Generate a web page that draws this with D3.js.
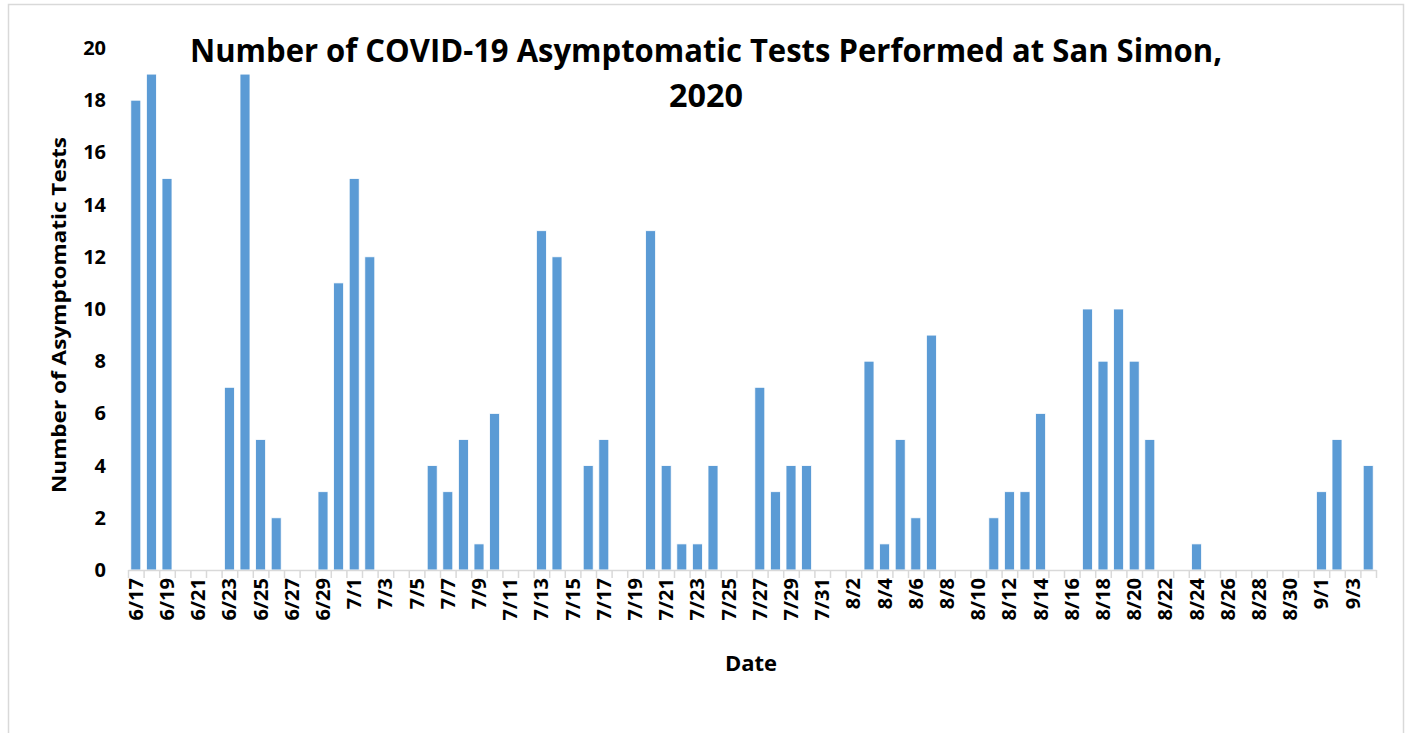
<!DOCTYPE html>
<html>
<head>
<meta charset="utf-8">
<script src="https://cdn.jsdelivr.net/npm/d3@7"></script>
<style>
  body { margin: 0; background: #fff; }
  svg { display: block; font-family: "Open Sans", sans-serif; }
</style>
</head>
<body>
<svg id="chart"></svg>
<script>
// ---------- data ----------
var dates = [
  "6/17","6/18","6/19","6/20","6/21","6/22","6/23","6/24","6/25","6/26","6/27","6/28","6/29","6/30",
  "7/1","7/2","7/3","7/4","7/5","7/6","7/7","7/8","7/9","7/10","7/11","7/12","7/13","7/14","7/15",
  "7/16","7/17","7/18","7/19","7/20","7/21","7/22","7/23","7/24","7/25","7/26","7/27","7/28","7/29",
  "7/30","7/31",
  "8/1","8/2","8/3","8/4","8/5","8/6","8/7","8/8","8/9","8/10","8/11","8/12","8/13","8/14","8/15",
  "8/16","8/17","8/18","8/19","8/20","8/21","8/22","8/23","8/24","8/25","8/26","8/27","8/28","8/29",
  "8/30","8/31",
  "9/1","9/2","9/3","9/4"
];
var tests = [
  18,19,15,0,0,0,7,19,5,2,0,0,3,11,
  15,12,0,0,0,4,3,5,1,6,0,0,13,12,0,
  4,5,0,0,13,4,1,1,4,0,0,7,3,4,
  4,0,
  0,0,8,1,5,2,9,0,0,0,2,3,3,6,0,
  0,10,8,10,8,5,0,0,1,0,0,0,0,0,
  0,0,
  3,5,0,4
];
var yTicks = [0,2,4,6,8,10,12,14,16,18,20];
var titleLines = ["Number of COVID-19 Asymptomatic Tests Performed at San Simon,", "2020"];

// ---------- layout ----------
var screen = {width: 1406, height: 733};
var plot = {left: 128, right: 1376, top: 48, bottom: 570};

var svg = d3.select("#chart")
  .attr("width", screen.width)
  .attr("height", screen.height);

// outer frame
svg.append("rect")
  .attr("x", 8.5).attr("y", 4.5)
  .attr("width", 1395).attr("height", 760)
  .attr("fill", "#fff")
  .attr("stroke", "#d9d9d9")
  .attr("stroke-width", 1.5);

// ---------- scales ----------
var xScale = d3.scaleBand()
  .domain(dates)
  .range([plot.left, plot.right])
  .paddingInner(0.36)
  .paddingOuter(0.18);

var edgeScale = d3.scaleLinear()
  .domain([0, dates.length])
  .range([plot.left, plot.right]);

var yScale = d3.scaleLinear()
  .domain([0, 20])
  .range([plot.bottom, plot.top]);

// ---------- bars ----------
svg.append("g")
  .selectAll("rect")
  .data(tests)
  .enter()
  .append("rect")
  .attr("x", function(d, i) { return xScale(dates[i]); })
  .attr("width", xScale.bandwidth())
  .attr("y", function(d) { return yScale(d); })
  .attr("height", function(d) { return yScale(0) - yScale(d); })
  .attr("fill", "#5b9bd5")
  .attr("stroke", "#ffffff")
  .attr("stroke-width", 0.8)
  .attr("display", function(d) { return d > 0 ? null : "none"; });

// ---------- x axis (line + boundary ticks) ----------
var xTickAxis = d3.axisBottom(edgeScale)
  .tickValues(d3.range(0, dates.length + 1))
  .tickSize(8)
  .tickSizeOuter(0)
  .tickFormat("");

var gx = svg.append("g")
  .attr("transform", "translate(0," + plot.bottom + ")")
  .call(xTickAxis);
gx.select(".domain").attr("stroke", "#d9d9d9").attr("stroke-width", 1.5);
gx.selectAll(".tick line").attr("stroke", "#d9d9d9").attr("stroke-width", 1.5);

// x labels every other day
var xLabelAxis = d3.axisBottom(xScale)
  .tickValues(dates.filter(function(d, i) { return i % 2 === 0; }))
  .tickSize(0);

var gxl = svg.append("g")
  .attr("transform", "translate(0," + plot.bottom + ")")
  .call(xLabelAxis);
gxl.select(".domain").remove();
gxl.selectAll("text")
  .attr("font-family", "Open Sans, sans-serif")
  .attr("font-size", 20)
  .attr("font-weight", "bold")
  .attr("fill", "#000")
  .attr("text-anchor", "end")
  .attr("transform", "translate(0,8) rotate(-90)")
  .attr("x", 0)
  .attr("y", 0)
  .attr("dy", "0.35em");

// ---------- y axis ----------
var yAxis = d3.axisLeft(yScale)
  .tickValues(yTicks)
  .tickSize(0)
  .tickPadding(22);

var gy = svg.append("g")
  .attr("transform", "translate(" + plot.left + ",0)")
  .call(yAxis);
gy.select(".domain").remove();
gy.selectAll("text")
  .attr("font-family", "Open Sans, sans-serif")
  .attr("font-size", 20)
  .attr("font-weight", "bold")
  .attr("fill", "#000");

// ---------- titles ----------
svg.append("text")
  .attr("x", 706).attr("y", 62)
  .attr("text-anchor", "middle")
  .attr("font-size", 32)
  .attr("font-weight", "bold")
  .attr("textLength", 1032)
  .attr("lengthAdjust", "spacingAndGlyphs")
  .text(titleLines[0]);

svg.append("text")
  .attr("x", 706).attr("y", 107)
  .attr("text-anchor", "middle")
  .attr("font-size", 32)
  .attr("font-weight", "bold")
  .attr("textLength", 74)
  .attr("lengthAdjust", "spacingAndGlyphs")
  .text(titleLines[1]);

svg.append("text")
  .attr("x", 751).attr("y", 671)
  .attr("text-anchor", "middle")
  .attr("font-size", 22)
  .attr("font-weight", "bold")
  .text("Date");

svg.append("text")
  .attr("transform", "translate(66,315) rotate(-90)")
  .attr("text-anchor", "middle")
  .attr("font-size", 20)
  .attr("font-weight", "bold")
  .attr("textLength", 356)
  .attr("lengthAdjust", "spacingAndGlyphs")
  .text("Number of Asymptomatic Tests");
</script>
</body>
</html>
